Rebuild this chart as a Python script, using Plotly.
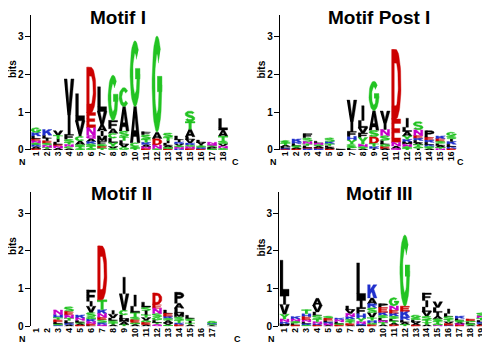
import numpy as np
import plotly.graph_objects as go

# ---------------- data (letters listed top -> bottom, heights in bits) ----------------
TITLES = ["Motif I", "Motif Post I", "Motif II", "Motif III"]

MOTIF_I_LETTERS = ["GKLENSRAD", "KLIESNTA", "VTILENA", "VIFSTNCA", "LVICASTG", "DENQAKSTG",
                   "LVAIMFSET", "GFACLYVS", "CASTLVG", "GACST", "FSTKANE", "GADNS",
                   "STILAGE", "LIKVSNR", "STALVKGNE", "LVISKE", "NQSALG", "LATSVNG"]
MOTIF_I_HEIGHTS = [[0.13, 0.09, 0.07, 0.06, 0.05, 0.05, 0.05, 0.05, 0.04],
                   [0.15, 0.08, 0.07, 0.06, 0.06, 0.05, 0.04, 0.03],
                   [0.12, 0.10, 0.08, 0.06, 0.05, 0.05, 0.05],
                   [0.95, 0.52, 0.13, 0.08, 0.06, 0.05, 0.05, 0.04],
                   [0.72, 0.35, 0.06, 0.12, 0.10, 0.05, 0.05, 0.04],
                   [1.20, 0.40, 0.21, 0.08, 0.08, 0.06, 0.06, 0.05, 0.05],
                   [0.65, 0.35, 0.17, 0.13, 0.14, 0.08, 0.05, 0.05, 0.05],
                   [1.20, 0.22, 0.12, 0.13, 0.12, 0.10, 0.05, 0.04],
                   [0.50, 0.65, 0.15, 0.10, 0.10, 0.08, 0.07],
                   [1.74, 0.96, 0.10, 0.05, 0.04],
                   [0.08, 0.12, 0.08, 0.06, 0.06, 0.04, 0.04],
                   [2.55, 0.17, 0.17, 0.10, 0.03],
                   [0.12, 0.08, 0.07, 0.06, 0.05, 0.04, 0.03],
                   [0.10, 0.06, 0.05, 0.05, 0.04, 0.04, 0.03],
                   [0.28, 0.20, 0.20, 0.07, 0.10, 0.05, 0.05, 0.04, 0.04],
                   [0.06, 0.05, 0.04, 0.04, 0.04, 0.03],
                   [0.05, 0.03, 0.03, 0.03, 0.03, 0.03],
                   [0.30, 0.17, 0.12, 0.08, 0.06, 0.05, 0.05]]

MOTIF_POST_I_LETTERS = ["STALKE", "KRLSAE", "FSNTLEK", "LNSAEK", "SKTLAE", "LA",
                        "VIFHYCSL", "ILVFYNSA", "GASDTKI", "VINSLGEA", "DENAQ",
                        "ILAYKMNST", "SNEKLATGI", "PEKLRSA", "KESLATN", "GSIKLRE"]
MOTIF_POST_I_HEIGHTS = [[0.07, 0.05, 0.04, 0.04, 0.03, 0.02],
                        [0.08, 0.05, 0.05, 0.04, 0.04, 0.03],
                        [0.11, 0.10, 0.06, 0.05, 0.05, 0.03, 0.03],
                        [0.05, 0.04, 0.04, 0.04, 0.03, 0.03],
                        [0.10, 0.06, 0.05, 0.04, 0.04, 0.03],
                        [0.015, 0.015],
                        [0.57, 0.26, 0.13, 0.10, 0.10, 0.06, 0.05, 0.05],
                        [0.39, 0.19, 0.14, 0.12, 0.18, 0.06, 0.05, 0.04],
                        [0.78, 0.52, 0.17, 0.18, 0.08, 0.05, 0.04],
                        [0.32, 0.17, 0.16, 0.13, 0.10, 0.06, 0.05, 0.04],
                        [1.84, 0.62, 0.10, 0.06, 0.04],
                        [0.24, 0.11, 0.12, 0.09, 0.07, 0.06, 0.06, 0.05, 0.04],
                        [0.22, 0.15, 0.07, 0.06, 0.06, 0.05, 0.05, 0.05, 0.04],
                        [0.17, 0.08, 0.06, 0.06, 0.05, 0.05, 0.04],
                        [0.07, 0.07, 0.06, 0.05, 0.05, 0.04, 0.03],
                        [0.10, 0.08, 0.07, 0.07, 0.06, 0.05, 0.04]]

MOTIF_II_LETTERS = ["", "", "NHTELSK", "SENTLKA", "KNLSAE", "FIVSGKNEL", "DTKNESRQ",
                    "IVLSTA", "IVCLMAT", "ILTSEGA", "LSITVGEA", "DENSGLTQ", "LEKSAVG",
                    "PALMSTKE", "LSITA", "", "GKTA"]
MOTIF_II_HEIGHTS = [[], [],
                    [0.12, 0.08, 0.06, 0.05, 0.05, 0.04, 0.03],
                    [0.13, 0.09, 0.08, 0.07, 0.06, 0.05, 0.04],
                    [0.08, 0.06, 0.05, 0.04, 0.04, 0.03],
                    [0.30, 0.13, 0.16, 0.12, 0.06, 0.06, 0.06, 0.04, 0.03],
                    [1.43, 0.26, 0.10, 0.10, 0.06, 0.08, 0.06, 0.04],
                    [0.10, 0.10, 0.06, 0.07, 0.05, 0.04],
                    [0.44, 0.43, 0.13, 0.10, 0.08, 0.07, 0.05],
                    [0.30, 0.16, 0.12, 0.08, 0.06, 0.06, 0.05],
                    [0.13, 0.10, 0.10, 0.08, 0.07, 0.06, 0.05, 0.05],
                    [0.30, 0.10, 0.14, 0.10, 0.08, 0.06, 0.05, 0.05],
                    [0.09, 0.07, 0.06, 0.06, 0.06, 0.05, 0.04],
                    [0.29, 0.13, 0.13, 0.10, 0.09, 0.07, 0.05, 0.04],
                    [0.08, 0.07, 0.05, 0.05, 0.04],
                    [],
                    [0.06, 0.03, 0.03, 0.02]]

MOTIF_III_LETTERS = ["LIVYNKMF", "KNSLE", "THENLKS", "AVLSTNKE", "SELKNA", "KNLSE",
                     "LVNKSTEA", "LIFHYNKM", "KARSVTHGE", "PEKSLNTA", "GNEKSLTAD",
                     "GEKRLAT", "GSLVAE", "FILVSTYA", "VLIASTGN", "ILSTVEK", "KLSANE",
                     "EGLSA", "SNTLKAE"]
MOTIF_III_HEIGHTS = [[0.95, 0.22, 0.26, 0.13, 0.07, 0.05, 0.04, 0.03],
                     [0.07, 0.06, 0.05, 0.05, 0.03],
                     [0.11, 0.08, 0.07, 0.06, 0.05, 0.04, 0.03],
                     [0.19, 0.17, 0.09, 0.10, 0.07, 0.05, 0.04, 0.03],
                     [0.06, 0.05, 0.05, 0.04, 0.04, 0.03],
                     [0.05, 0.05, 0.05, 0.04, 0.03],
                     [0.10, 0.10, 0.08, 0.07, 0.07, 0.05, 0.04, 0.03],
                     [1.00, 0.18, 0.17, 0.12, 0.08, 0.06, 0.04, 0.03],
                     [0.35, 0.15, 0.11, 0.13, 0.13, 0.08, 0.06, 0.05, 0.04],
                     [0.10, 0.13, 0.08, 0.07, 0.07, 0.05, 0.05, 0.05],
                     [0.22, 0.11, 0.08, 0.08, 0.07, 0.06, 0.05, 0.05, 0.04],
                     [1.89, 0.13, 0.15, 0.08, 0.06, 0.06, 0.05],
                     [0.07, 0.06, 0.05, 0.05, 0.04, 0.03],
                     [0.20, 0.17, 0.12, 0.12, 0.10, 0.07, 0.05, 0.05],
                     [0.15, 0.13, 0.10, 0.07, 0.07, 0.06, 0.04, 0.03],
                     [0.12, 0.08, 0.08, 0.06, 0.05, 0.04, 0.03],
                     [0.06, 0.05, 0.05, 0.04, 0.04, 0.03],
                     [0.04, 0.04, 0.04, 0.04, 0.03],
                     [0.08, 0.06, 0.06, 0.05, 0.04, 0.04, 0.03]]

Y_TICKS = [0, 1, 2, 3]

# ---------------- colour scheme (WebLogo chemistry) ----------------
GREEN, MAGENTA, BLUE, RED, BLACK = "#22C322", "#C800C8", "#2030CC", "#CC0000", "#000000"
COLOR_OF = {}
for aa in "GSTYC": COLOR_OF[aa] = GREEN
for aa in "NQ": COLOR_OF[aa] = MAGENTA
for aa in "KRH": COLOR_OF[aa] = BLUE
for aa in "DE": COLOR_OF[aa] = RED
for aa in "AVLIPWFM": COLOR_OF[aa] = BLACK

# ---------------- glyph outlines in a unit box ----------------
WX, WY = 0.14, 0.095


def rect(x0, y0, x1, y1):
    return [(x0, y0), (x1, y0), (x1, y1), (x0, y1)]


def arc(cx, cy, rx, ry, a0, a1, n=28):
    t = np.radians(np.linspace(a0, a1, n))
    return [(cx + rx * np.cos(a), cy + ry * np.sin(a)) for a in t]


def stroke(pts, wx=WX, wy=WY):
    P = np.array(pts, dtype=float)
    T = np.gradient(P, axis=0)
    N = np.stack([-T[:, 1], T[:, 0]], 1)
    N /= np.linalg.norm(N, axis=1, keepdims=True)
    off = N * np.array([wx, wy])
    left, right = P + off, P - off
    return [tuple(p) for p in left] + [tuple(p) for p in right[::-1]]


def stem(x0=0.04):
    return rect(x0, 0, x0 + 2 * WX, 1)


RX, RY = 0.5 - WX, 0.5 - WY
P_BOWL = stroke([(0.15, 1 - WY)] + arc(0.6, 0.72, 0.4 - WX, 0.28 - WY, 90, -90) + [(0.15, 0.44 + WY)])
GLYPHS = {
    "A": [[(0, 0), (0.28, 0), (0.5, 0.7), (0.72, 0), (1, 0), (0.64, 1), (0.36, 1)], rect(0.2, 0.17, 0.8, 0.34)],
    "C": [stroke(arc(0.5, 0.5, RX, RY, 40, 320))],
    "D": [stem(), stroke([(0.1, 1 - WY)] + arc(0.5, 0.5, RX, RY, 90, -90) + [(0.1, WY)])],
    "E": [stem(), rect(0.04, 1 - 2 * WY, 0.96, 1), rect(0.04, 0.5 - WY, 0.88, 0.5 + WY), rect(0.04, 0, 0.96, 2 * WY)],
    "F": [stem(), rect(0.04, 1 - 2 * WY, 0.96, 1), rect(0.04, 0.46 - WY, 0.86, 0.46 + WY)],
    "G": [stroke(arc(0.5, 0.5, RX, RY, 45, 360)), rect(0.52, 0.42, 1.0, 0.58)],
    "H": [stem(), stem(0.96 - 2 * WX), rect(0.04, 0.5 - WY, 0.96, 0.5 + WY)],
    "I": [rect(0.37, 0, 0.63, 1)],
    "K": [stem(), [(0.3, 0.28), (1.0, 1.0), (0.64, 1.0), (0.3, 0.62)],
          [(0.44, 0.56), (0.66, 0.0), (1.0, 0.0), (0.66, 0.74)]],
    "L": [rect(0.04, 0, 0.34, 1), rect(0.04, 0, 0.96, 2 * WY)],
    "M": [rect(0.02, 0, 0.26, 1), rect(0.74, 0, 0.98, 1),
          [(0.02, 1), (0.3, 1), (0.5, 0.38), (0.7, 1), (0.98, 1), (0.62, 0.1), (0.38, 0.1)]],
    "N": [rect(0.04, 0, 0.28, 1), rect(0.72, 0, 0.96, 1), [(0.04, 1), (0.32, 1), (0.96, 0), (0.68, 0)]],
    "P": [stem(), P_BOWL],
    "Q": [stroke(arc(0.5, 0.5, RX, RY, 0, 359)), [(0.55, 0.3), (0.75, 0.3), (1.0, 0.0), (0.8, 0.0)]],
    "R": [stem(), P_BOWL, [(0.45, 0.5), (0.72, 0.5), (1.0, 0), (0.7, 0)]],
    "S": [stroke(arc(0.5, 0.705, RX, 0.205, 20, 270) + arc(0.5, 0.295, RX, 0.205, 90, -160)[1:])],
    "T": [rect(0, 1 - 2 * WY, 1, 1), rect(0.36, 0, 0.64, 1)],
    "V": [[(0, 1), (0.3, 1), (0.5, 0.3), (0.7, 1), (1, 1), (0.66, 0), (0.34, 0)]],
    "W": [[(0, 1), (0.2, 1), (0.3, 0.35), (0.42, 1), (0.58, 1), (0.7, 0.35), (0.8, 1), (1, 1),
           (0.85, 0), (0.62, 0), (0.5, 0.55), (0.38, 0), (0.15, 0)]],
    "Y": [[(0, 1), (0.32, 1), (0.5, 0.62), (0.68, 1), (1, 1), (0.64, 0.42), (0.64, 0), (0.36, 0), (0.36, 0.42)]],
}


def ccw(poly):
    a = 0.0
    for (x0, y0), (x1, y1) in zip(poly, poly[1:] + poly[:1]):
        a += x0 * y1 - x1 * y0
    return poly if a >= 0 else poly[::-1]


GLYPHS = {k: [ccw(list(p)) for p in v] for k, v in GLYPHS.items()}

# ---------------- layout geometry (pixels) ----------------
W, H = 490, 342
BIT_PX = 38.3
YMAX = 3.57
# N / C labels: (x centre, y bottom of text box) in pixels
PANELS = [
    dict(letters=MOTIF_I_LETTERS, heights=MOTIF_I_HEIGHTS, left=22.5, step=11.0, base=144.0,
         title=(110, 10), bits=(4.5, 62.5), N=(14, 162.5), C=(227, 162.5)),
    dict(letters=MOTIF_POST_I_LETTERS, heights=MOTIF_POST_I_HEIGHTS, left=271.8, step=11.07, base=144.0,
         title=(371, 10), bits=(254, 62.5), N=(265, 162.5), C=(452, 162.5)),
    dict(letters=MOTIF_II_LETTERS, heights=MOTIF_II_HEIGHTS, left=22.5, step=11.0, base=323.0,
         title=(113, 188), bits=(4.5, 242), N=(14, 341.5), C=(229, 341.5)),
    dict(letters=MOTIF_III_LETTERS, heights=MOTIF_III_HEIGHTS, left=271.0, step=10.94, base=323.0,
         title=(371, 188), bits=(253, 243), N=(263, 341.5), C=(481, 341.5)),
]

FONT = "Liberation Sans, Arial, Helvetica, sans-serif"
fig = go.Figure()
annotations = []
layout = {}

for i, (pan, title) in enumerate(zip(PANELS, TITLES), start=1):
    sfx = "" if i == 1 else str(i)
    n = len(pan["letters"])
    traces = {}
    for pos, (lets, hts) in enumerate(zip(pan["letters"], pan["heights"]), start=1):
        base = 0.0
        for aa, h in reversed(list(zip(lets, hts))):
            col = COLOR_OF[aa]
            xs, ys = traces.setdefault(col, ([], []))
            for poly in GLYPHS[aa]:
                for (u, v) in poly:
                    xs.append(pos - 0.45 + 0.9 * u)
                    ys.append(base + h * v)
                xs.append(None)
                ys.append(None)
            base += h
    for col, (xs, ys) in traces.items():
        fig.add_trace(go.Scatter(x=xs, y=ys, mode="lines", fill="toself", fillcolor=col,
                                 line=dict(width=0.4, color=col), hoverinfo="skip",
                                 showlegend=False, xaxis="x" + sfx, yaxis="y" + sfx))

    x0 = pan["left"] / W
    x1 = (pan["left"] + n * pan["step"]) / W
    y0 = 1 - pan["base"] / H
    y1 = 1 - (pan["base"] - YMAX * BIT_PX) / H
    layout["xaxis" + sfx] = dict(domain=[x0, x1], range=[0.5, n + 0.5], anchor="y" + sfx,
                                 showline=False, showgrid=False, zeroline=False, ticks="",
                                 tickvals=list(range(1, n + 1)),
                                 ticktext=[str(k) for k in range(1, n + 1)],
                                 tickangle=-90, fixedrange=True, ticklabelstandoff=-1,
                                 tickfont=dict(family=FONT, size=8.5, color="black", weight="bold"))
    layout["yaxis" + sfx] = dict(domain=[y0, y1], range=[0, YMAX], anchor="x" + sfx,
                                 showline=True, linecolor="black", linewidth=1,
                                 showgrid=False, zeroline=False, ticks="outside", ticklen=5,
                                 tickwidth=1, tickcolor="black", tickvals=Y_TICKS, fixedrange=True,
                                 ticklabelstandoff=-1,
                                 tickfont=dict(family=FONT, size=10, color="black", weight="bold"))
    tx, ty = pan["title"]
    annotations.append(dict(text=title, x=tx / W, y=1 - ty / H, xref="paper", yref="paper",
                            xanchor="center", yanchor="middle", showarrow=False,
                            font=dict(family=FONT, size=19, color="black", weight="bold")))
    bx, by = pan["bits"]
    annotations.append(dict(text="bits", x=bx / W, y=1 - by / H, xref="paper", yref="paper",
                            xanchor="center", yanchor="middle", showarrow=False, textangle=-90,
                            font=dict(family=FONT, size=10, color="black", weight="bold")))
    for lab in ("N", "C"):
        lx, ly = pan[lab]
        annotations.append(dict(text=lab, x=lx / W, y=1 - ly / H, xref="paper", yref="paper",
                                xanchor="center", yanchor="bottom", showarrow=False, borderpad=0,
                                font=dict(family=FONT, size=9, color="black", weight="bold")))

fig.update_layout(width=W, height=H, margin=dict(l=0, r=0, t=0, b=0),
                  paper_bgcolor="white", plot_bgcolor="white",
                  annotations=annotations, **layout)
fig.write_html("out.html")
